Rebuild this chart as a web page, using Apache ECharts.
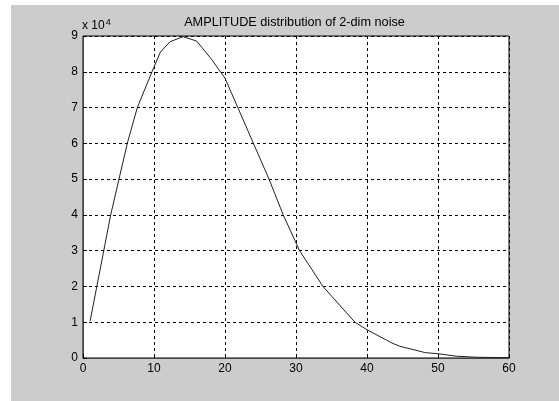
<!DOCTYPE html>
<html>
<head>
<meta charset="utf-8">
<script src="https://cdn.jsdelivr.net/npm/echarts@6/dist/echarts.min.js"></script>
<style>
  html, body { margin: 0; padding: 0; background: #ffffff; }
  #chart { position: absolute; left: 11px; top: 5px; width: 548px; height: 396px; }
</style>
</head>
<body>
<div id="chart"></div>
<script>
// Amplitude histogram of 2-D noise: amplitude values and their counts
const amplitude = [1, 3.9, 6.24, 7.65, 9.72, 10.9, 12.25, 14.1, 16, 18.1, 20, 24, 26.2, 28.2, 30.5, 33.8, 38.3, 40, 43.5, 44.6, 48.2, 50, 52.6, 55.5, 60];
const counts = [10300, 40000, 60000, 70000, 80000, 85500, 88400, 89800, 88600, 83500, 78200, 60000, 50000, 40000, 30000, 20000, 10000, 7900, 4200, 3300, 1500, 1200, 500, 200, 100];
const xTicks = [0, 10, 20, 30, 40, 50, 60];
const yTicks = [0, 1, 2, 3, 4, 5, 6, 7, 8, 9]; // in units of 10^4
const titleText = 'AMPLITUDE distribution of 2-dim noise';

const chart = echarts.init(document.getElementById('chart'), null, { renderer: 'canvas' });
const font = 'Liberation Sans, Arial, Helvetica, sans-serif';
const gridLine = { show: true, lineStyle: { color: '#000', type: [3, 3], width: 1 } };

chart.setOption({
  backgroundColor: '#cccccc',
  animation: false,
  graphic: [{
    type: 'text', x: 283.5, y: 17,
    style: {
      text: titleText, fill: '#000',
      font: '12.7px ' + font,
      textAlign: 'center', textVerticalAlign: 'middle'
    }
  }, {
    type: 'text', left: 71, top: 13,
    style: {
      text: '{a|x 10}{b|4}',
      rich: {
        a: { fontFamily: font, fontSize: 12, fill: '#000', verticalAlign: 'bottom', lineHeight: 14 },
        b: { fontFamily: font, fontSize: 9, fill: '#000', verticalAlign: 'top', lineHeight: 14, padding: [0, 0, 7, 1] }
      }
    }
  }],
  grid: {
    left: 72, top: 31, right: 50, bottom: 43,
    show: true, backgroundColor: '#ffffff', borderColor: '#000', borderWidth: 1
  },
  xAxis: {
    type: 'value', min: xTicks[0], max: xTicks[xTicks.length - 1], interval: 10,
    axisLine: { show: true, lineStyle: { color: '#444', width: 1 } },
    axisTick: { show: true, inside: true, length: 4, lineStyle: { color: '#000' } },
    axisLabel: { fontFamily: font, fontSize: 12, color: '#000', margin: 5 },
    splitLine: gridLine
  },
  yAxis: {
    type: 'value', min: 0, max: yTicks[yTicks.length - 1] * 1e4, interval: 1e4,
    axisLine: { show: true, lineStyle: { color: '#444', width: 1 } },
    axisTick: { show: true, inside: true, length: 4, lineStyle: { color: '#000' } },
    axisLabel: { fontFamily: font, fontSize: 12, color: '#000', margin: 5,
      formatter: v => String(Math.round(v / 1e4)) },
    splitLine: gridLine
  },
  series: [{
    type: 'line',
    data: amplitude.map((x, i) => [x, counts[i]]),
    symbol: 'none',
    clip: true,
    lineStyle: { color: '#222', width: 1 },
    z: 5
  }]
});
</script>
</body>
</html>
